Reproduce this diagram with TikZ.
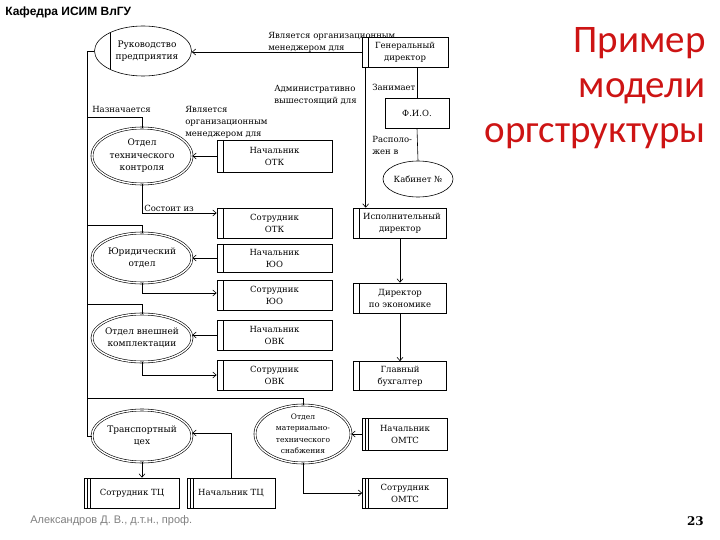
\documentclass[tikz,border=0pt]{standalone}
\usepackage{fontspec}
\setmainfont{DejaVu Serif}
\newfontfamily\headfont{Liberation Sans}
\newfontfamily\titlefont{Carlito}
\usetikzlibrary{arrows.meta,shapes.geometric}
\definecolor{titlered}{RGB}{205,20,20}
\tikzset{
  >={Straight Barb[length=3.5pt,width=6pt]},
  every path/.style={line width=0.6pt},
  lbl/.style={inner sep=0pt, align=left, font=\fontsize{8.5}{12}\selectfont},
  unit/.style={draw, rectangle, inner sep=1pt, align=center,
    font=\fontsize{8.5}{12}\selectfont,
    path picture={\draw ([xshift=6pt]path picture bounding box.north west)
      -- ([xshift=6pt]path picture bounding box.south west);}},
  unitii/.style={unit,
    path picture={\draw ([xshift=3pt]path picture bounding box.north west)
      -- ([xshift=3pt]path picture bounding box.south west);
      \draw ([xshift=6pt]path picture bounding box.north west)
      -- ([xshift=6pt]path picture bounding box.south west);}},
  dept/.style={draw, ellipse, double, double distance=1.4pt,
    inner xsep=-12pt, inner ysep=-8pt,
    align=center, font=\fontsize{9}{12.5}\selectfont},
}
\begin{document}
\begin{tikzpicture}[x=1pt,y=-1pt]
  \useasboundingbox (0,0) rectangle (720,540);
  % headers
  \node[anchor=west,inner sep=0pt,font=\headfont\bfseries\fontsize{12}{14}\selectfont] (dept) at (5,12) {Кафедра ИСИМ ВлГУ};
  \node[anchor=north east,inner sep=0pt,align=right,text=titlered,font=\titlefont\fontsize{39}{45}\selectfont] (title) at (706,27) {Пример\\модели\\оргструктуры};
  \node[anchor=west,inner sep=0pt,text=black!50,font=\headfont\fontsize{11}{13}\selectfont] (author) at (30,521) {Александров Д. В., д.т.н., проф.};
  \node[anchor=east,inner sep=0pt,font=\bfseries\fontsize{12}{15}\selectfont] (page) at (704,521) {23};

  % top management
  \node[draw,ellipse,minimum width=97pt,minimum height=50pt,align=center,inner xsep=-10pt,inner ysep=-6pt,
    font=\fontsize{9}{12.5}\selectfont,
    path picture={\draw ([xshift=16pt]path picture bounding box.north west)
      -- ([xshift=16pt]path picture bounding box.south west);}]
    (ruk) at (143,51) {\hspace*{8pt}Руководство\\\hspace*{8pt}предприятия};
  \node[unit,minimum width=86pt,minimum height=30pt] (gen) at (405,52) {Генеральный\\директор};
  \node[draw,rectangle,minimum width=64pt,minimum height=30pt,font=\fontsize{8.5}{12}\selectfont] (fio) at (417,113) {Ф.И.О.};
  \node[draw,ellipse,minimum width=70pt,minimum height=36pt,inner sep=-6pt,font=\fontsize{8.5}{12}\selectfont] (kab) at (418,179) {Кабинет №};
  \node[unit,minimum width=93pt,minimum height=30pt] (isp) at (400,223) {\hspace*{4pt}Исполнительный\\директор};
  \node[unit,minimum width=93pt,minimum height=30pt] (eco) at (400,298) {Директор\\по экономике};
  \node[unit,minimum width=93pt,minimum height=29pt] (buh) at (400,376) {Главный\\бухгалтер};

  % departments
  \node[dept,minimum width=100pt,minimum height=56pt] (otk) at (142,156) {Отдел\\технического\\контроля};
  \node[dept,minimum width=100pt,minimum height=50pt] (yur) at (142,258) {Юридический\\отдел};
  \node[dept,minimum width=100pt,minimum height=48pt] (ovk) at (142,338) {Отдел внешней\\комплектации};
  \node[dept,minimum width=100pt,minimum height=52pt] (tc) at (142,436) {Транспортный\\цех};
  \node[dept,minimum width=96pt,minimum height=58pt,font=\fontsize{7.5}{11.5}\selectfont] (omts) at (303,434) {Отдел\\материально-\\технического\\снабжения};

  % staff
  \node[unit,minimum width=115pt,minimum height=32pt] (notk) at (274.5,156) {Начальник\\ОТК};
  \node[unit,minimum width=115pt,minimum height=30pt] (sotk) at (274.5,223) {Сотрудник\\ОТК};
  \node[unit,minimum width=115pt,minimum height=28pt] (nyur) at (274.5,258) {Начальник\\ЮО};
  \node[unit,minimum width=115pt,minimum height=30pt] (syur) at (274.5,295) {Сотрудник\\ЮО};
  \node[unit,minimum width=115pt,minimum height=30pt] (novk) at (274.5,335) {Начальник\\ОВК};
  \node[unit,minimum width=115pt,minimum height=30pt] (sovk) at (274.5,375) {Сотрудник\\ОВК};
  \node[unitii,minimum width=85pt,minimum height=32pt] (nomts) at (405,434) {Начальник\\ОМТС};
  \node[unitii,minimum width=85pt,minimum height=30pt] (somts) at (405,493) {Сотрудник\\ОМТС};
  \node[unitii,minimum width=95pt,minimum height=30pt] (stc) at (132,493) {Сотрудник ТЦ};
  \node[unitii,minimum width=88pt,minimum height=30pt] (ntc) at (231,493) {Начальник ТЦ};

  % left bus
  \coordinate (bus) at (87,0);
  \coordinate (b1) at (87,117); \coordinate (b2) at (87,225);
  \coordinate (b3) at (87,304); \coordinate (b4) at (87,398);
  \draw (ruk.west) -- (ruk.west -| bus) |- (tc.west);
  \draw (b1) -| (otk.north);
  \draw (b2) -| (yur.north);
  \draw (b3) -| (ovk.north);
  \draw (b4) -| (omts.north);
  \node[lbl,anchor=west] (naz) at (92,109) {Назначается};

  % management links
  \draw[->] (gen.west) -- (ruk.east |- gen.west);
  \node[lbl,anchor=south west] (org1) at (268,53) {Является организационным\\менеджером для};
  \draw[->] ([xshift=4pt]gen.south west) -- ([xshift=4pt]gen.south west |- isp.north);
  \node[lbl,anchor=west] (adm) at (274,95) {Административно\\вышестоящий для};
  \draw (fio.north |- gen.south) -- (fio.north);
  \node[lbl,anchor=west] (zan) at (372,87) {Занимает};
  \draw (fio.south) -- (kab.north);
  \node[lbl,anchor=west] (ras) at (372,145) {Располо-\\жен в};
  \draw[->] (isp.south) -- (eco.north);
  \draw[->] (eco.south) -- (buh.north);

  % department links
  \draw[->] (notk.west) -- (otk.east);
  \node[lbl,anchor=west] (org2) at (185,122) {Является\\организационным\\менеджером для};
  \draw[->] (otk.south) |- ([yshift=10pt]sotk.west);
  \node[lbl,anchor=south west] (sost) at (144,212) {Состоит из};
  \draw[->] (nyur.west) -- (yur.east);
  \draw[->] (yur.south) |- ([yshift=2pt]syur.west);
  \draw[->] (novk.west) -- (ovk.east |- novk.west);
  \draw[->] (ovk.south) |- (sovk.west);
  \draw[->] (nomts.west) -- (omts.east |- nomts.west);
  \draw[->] (omts.south) |- (somts.west);
  \draw[->] (tc.south) -- (tc.south |- stc.north);
  \draw[->] (ntc.north) |- ([yshift=3pt]tc.east);
\end{tikzpicture}
\end{document}
